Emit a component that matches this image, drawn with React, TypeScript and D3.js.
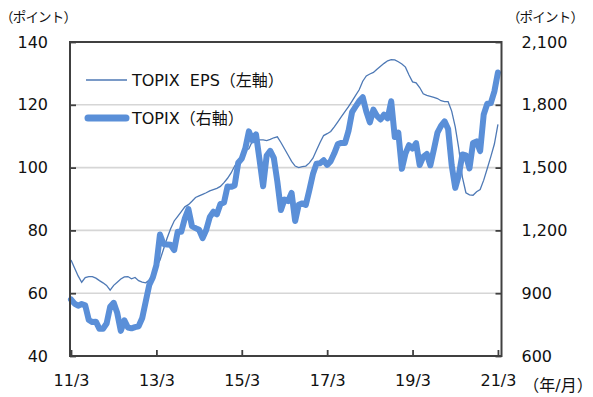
import React, { useRef, useEffect } from "react";
import * as d3 from "d3";

// month index 0 = 11/3 ... 120 = 21/3
const tickLabels = ["11/3", "13/3", "15/3", "17/3", "19/3", "21/3"];
const leftTicks = [40, 60, 80, 100, 120, 140];
const rightTicks = [600, 900, 1200, 1500, 1800, 2100];

// TOPIX EPS (left axis)
const epsValues = [
  70.6, 68, 65.5, 63.5, 65, 65.3, 65.3, 64.8, 64, 63.3, 62.5, 61,
  62.5, 63.5, 64.5, 65.2, 65.3, 64.6, 65, 64, 63.5, 63.3, 64.2, 66,
  68.4, 70.5, 74, 77.5, 80.5, 83, 84.5, 86, 87.5, 88.2, 89.3, 90.5,
  91, 91.5, 92, 92.6, 93, 93.4, 94, 95.2, 96.6, 98.3, 100.5, 102,
  103.5, 105.5, 106, 108.5, 108.8, 108.8, 108.8, 108.6, 109, 109.5, 109.8, 108,
  106, 104, 102, 100.5, 100, 100.3, 100.5, 101.5, 103, 105.5, 108, 110.2,
  110.8, 111.5, 113, 114.6, 116.2, 117.8, 119.4, 121.2, 123, 124.8, 127.5, 129.2,
  129.8, 130.3, 131.3, 132.3, 133.2, 134, 134.4, 134.3, 133.7, 133, 132, 129.5,
  127.3, 127, 125.5, 123.5, 123, 122.7, 122.4, 122, 121.3, 121, 121, 118,
  113, 106, 97, 92, 91.3, 91.2, 92.3, 93, 96, 99.7, 103.5, 107.5,
  113.8,
];

// TOPIX (right axis)
const topixValues = [
  870, 850, 840, 848, 842, 772, 762, 764, 730, 730, 755, 835,
  854, 805, 720, 770, 736, 732, 738, 742, 780, 860, 940, 975,
  1034, 1180, 1135, 1133, 1131, 1106, 1194, 1194, 1258, 1302, 1220, 1211,
  1203, 1163, 1202, 1263, 1289, 1277, 1326, 1333, 1410, 1408, 1415, 1523,
  1543, 1592, 1673, 1630, 1659, 1537, 1411, 1558, 1580, 1547, 1433, 1297,
  1347, 1340, 1379, 1245, 1322, 1329, 1322, 1393, 1469, 1519, 1521, 1535,
  1513, 1531, 1568, 1612, 1618, 1617, 1675, 1765, 1792, 1818, 1836, 1768,
  1716, 1777, 1747, 1730, 1753, 1735, 1817, 1646, 1667, 1494, 1567, 1607,
  1591, 1617, 1512, 1551, 1565, 1511, 1587, 1667, 1699, 1721, 1684, 1511,
  1403, 1464, 1563, 1558, 1496, 1618, 1625, 1579, 1754, 1805, 1808, 1864,
  1954,
];

const legendLabels = ["TOPIX  EPS（左軸）", "TOPIX（右軸）"];

export default function App() {
  const d3svg = useRef<SVGSVGElement>(null);
  const width = 593;
  const height = 397;
  const margin = { top: 42, bottom: 41, left: 70, right: 91.5 };
  const font = "'DejaVu Sans', 'Noto Sans CJK JP', sans-serif";
  const thinColor = "#4e79b5";
  const thickColor = "#5a8fd8";

  useEffect(() => {
    const svg = d3.select(d3svg.current);
    svg.selectAll("*").remove();

    const x0 = margin.left;
    const x1 = width - margin.right;
    const yTop = margin.top;
    const yBot = height - margin.bottom;

    const x = d3.scaleLinear().domain([0, 121]).range([x0 + 1, x1]);
    const yL = d3.scaleLinear().domain([40, 140]).range([yBot, yTop]);
    const yR = d3.scaleLinear().domain([600, 2100]).range([yBot, yTop]);

    // gridlines
    svg.append("g")
      .selectAll("line")
      .data(leftTicks.slice(1, -1))
      .join("line")
      .attr("x1", x0)
      .attr("x2", x1)
      .attr("y1", (d) => yL(d))
      .attr("y2", (d) => yL(d))
      .attr("stroke", "#d6d6d6")
      .attr("stroke-width", 1.6);

    const epsLine = d3.line<number>()
      .x((d, i) => x(i))
      .y((d) => yL(d));
    const topixLine = d3.line<number>()
      .x((d, i) => x(i))
      .y((d) => yR(d));

    svg.append("path")
      .datum(epsValues)
      .attr("d", epsLine)
      .attr("fill", "none")
      .attr("stroke", thinColor)
      .attr("stroke-width", 1.3);

    svg.append("path")
      .datum(topixValues)
      .attr("d", topixLine)
      .attr("fill", "none")
      .attr("stroke", thickColor)
      .attr("stroke-width", 6)
      .attr("stroke-linejoin", "round")
      .attr("stroke-linecap", "round");

    // axes
    const styleAxis = (g: any) => {
      g.select(".domain").remove();
      g.selectAll(".tick line").attr("stroke", "#404040").attr("stroke-width", 1.8);
      g.selectAll("text")
        .attr("font-family", font)
        .attr("font-size", 16)
        .attr("fill", "#111");
    };

    svg.append("g")
      .attr("transform", `translate(${x0},0)`)
      .call(d3.axisLeft(yL).tickValues(leftTicks).tickSizeInner(-6).tickSizeOuter(0).tickPadding(22))
      .call(styleAxis);

    svg.append("g")
      .attr("transform", `translate(${x1},0)`)
      .call(
        d3.axisRight(yR)
          .tickValues(rightTicks)
          .tickSizeInner(-6)
          .tickSizeOuter(0)
          .tickPadding(20)
          .tickFormat(d3.format(","))
      )
      .call(styleAxis);

    svg.append("g")
      .attr("transform", `translate(0,${yBot})`)
      .call(
        d3.axisBottom(x)
          .tickValues([0, 24, 48, 72, 96, 120])
          .tickSizeInner(-6)
          .tickSizeOuter(0)
          .tickPadding(19)
          .tickFormat((d, i) => tickLabels[i])
      )
      .call(styleAxis);

    // plot frame
    svg.append("rect")
      .attr("x", x0)
      .attr("y", yTop)
      .attr("width", x1 - x0)
      .attr("height", yBot - yTop)
      .attr("fill", "none")
      .attr("stroke", "#404040")
      .attr("stroke-width", 2);

    // axis titles
    const title = (tx: number, ty: number, s: string, anchor: string) =>
      svg.append("text")
        .attr("x", tx)
        .attr("y", ty)
        .attr("text-anchor", anchor)
        .attr("dominant-baseline", "central")
        .attr("font-family", font)
        .attr("font-size", 13.5)
        .attr("fill", "#111")
        .text(s);
    title(0, 17, "（ポイント）", "start").attr("letter-spacing", -0.8);
    title(545, 17, "（ポイント）", "middle").attr("letter-spacing", -0.8);
    title(558, 385, "（年/月）", "middle").attr("font-size", 16);

    // legend
    const legend = svg.append("g");
    legend.append("line")
      .attr("x1", 86).attr("x2", 127).attr("y1", 80).attr("y2", 80)
      .attr("stroke", thinColor).attr("stroke-width", 1.3);
    legend.append("line")
      .attr("x1", 88).attr("x2", 126).attr("y1", 118).attr("y2", 118)
      .attr("stroke", thickColor).attr("stroke-width", 7)
      .attr("stroke-linecap", "round");
    legend.selectAll("text")
      .data(legendLabels)
      .join("text")
      .attr("x", 132)
      .attr("y", (d, i) => (i === 0 ? 80 : 118))
      .attr("dominant-baseline", "central")
      .attr("font-family", font)
      .attr("font-size", 16)
      .attr("fill", "#111")
      .style("white-space", "pre")
      .text((d) => d);
  }, []);

  return (
    <svg
      ref={d3svg}
      width={width}
      height={height}
      style={{ position: "absolute", left: 0, top: 0, background: "#fff" }}
    />
  );
}
